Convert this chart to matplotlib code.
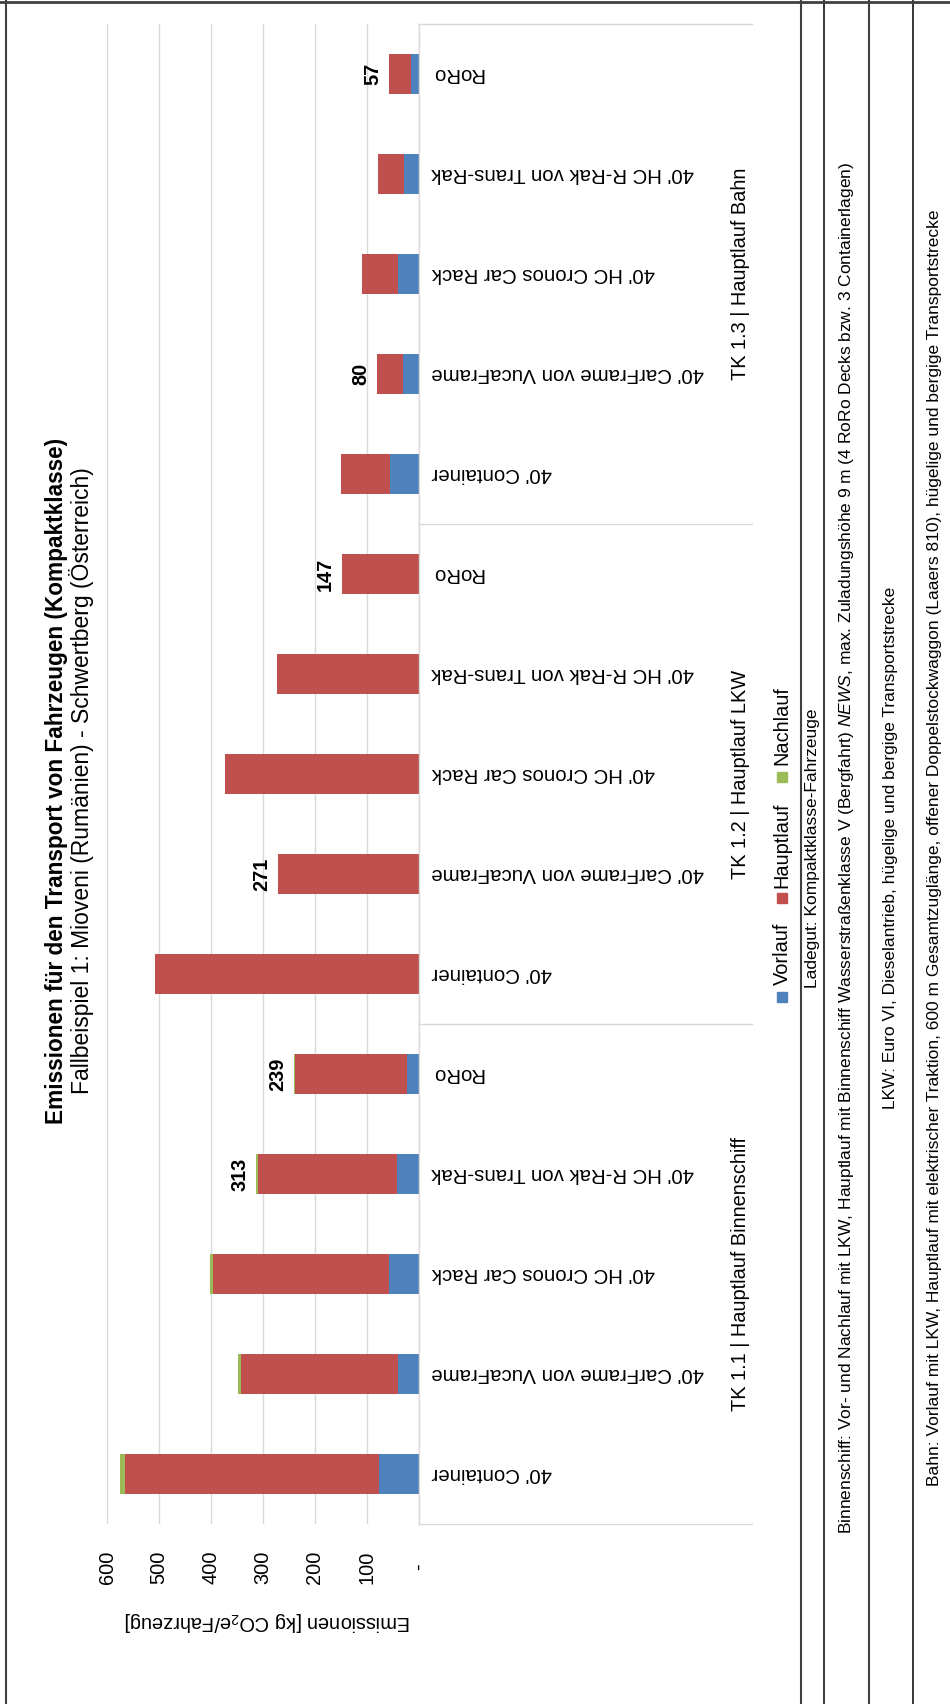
import matplotlib
matplotlib.use("Agg")
import matplotlib.pyplot as plt
from matplotlib.lines import Line2D
from matplotlib.patches import Rectangle
import numpy as np

plt.rcParams['font.family'] = 'Liberation Sans'
plt.rcParams['mathtext.fontset'] = 'custom'
plt.rcParams['mathtext.rm'] = 'Liberation Sans'
plt.rcParams['mathtext.it'] = 'Liberation Sans:italic'
plt.rcParams['mathtext.default'] = 'regular'

# data, listed from the bottom bar to the top bar
groups = ["TK 1.1 | Hauptlauf Binnenschiff", "TK 1.2 | Hauptlauf LKW", "TK 1.3 | Hauptlauf Bahn"]
variants = ["40' Container", "40' CarFrame von VucaFrame", "40' HC Cronos Car Rack",
            "40' HC R-Rak von Trans-Rak", "RoRo"]
vorlauf = [76, 39, 56, 41, 22, 0, 0, 0, 0, 0, 54, 29, 39, 28, 15]
hauptlauf = [490, 302, 340, 268, 215, 508, 271, 373, 273, 147, 95, 51, 69, 50, 42]
nachlauf = [8, 6, 6, 4, 2, 0, 0, 0, 0, 0, 0, 0, 0, 0, 0]
show_total = [False, False, False, True, True, False, True, False, False, True,
              False, True, False, False, True]
value_ticks = [0, 100, 200, 300, 400, 500, 600]
value_ticklabels = ["-", "100", "200", "300", "400", "500", "600"]
series_names = ["Vorlauf", "Hauptlauf", "Nachlauf"]
colors = ["#4F81BD", "#C0504D", "#9BBB59"]

title = "Emissionen für den Transport von Fahrzeugen (Kompaktklasse)"
subtitle = "Fallbeispiel 1: Mioveni (Rumänien) - Schwertberg (Österreich)"
axis_label = "Emissionen [kg CO$_2$e/Fahrzeug]"
notes = [
    "Ladegut: Kompaktklasse-Fahrzeuge",
    "Binnenschiff: Vor- und Nachlauf mit LKW, Hauptlauf mit Binnenschiff Wasserstraßenklasse V "
    "(Bergfahrt) $\\mathit{NEWS}$, max. Zuladungshöhe 9 m (4 RoRo Decks bzw. 3 Containerlagen)",
    "LKW: Euro VI, Dieselantrieb, hügelige und bergige Transportstrecke",
    "Bahn: Vorlauf mit LKW, Hauptlauf mit elektrischer Traktion, 600 m Gesamtzuglänge, offener "
    "Doppelstockwaggon (Laaers 810), hügelige und bergige Transportstrecke",
]

W, H = 950, 1704


def fx(px):
    return px / W


def fy(py):
    return 1 - py / H


fig = plt.figure(figsize=(W / 100, H / 100), dpi=100)
ax = fig.add_axes([fx(107), fy(1524), (418.5 - 107) / W, 1500 / H])

y = np.arange(len(vorlauf))
v = np.array(vorlauf)
h = np.array(hauptlauf)
n = np.array(nachlauf)
ax.barh(y, v, height=0.4, color=colors[0])
ax.barh(y, h, left=v, height=0.4, color=colors[1])
ax.barh(y, n, left=v + h, height=0.4, color=colors[2])

ax.set_xlim(600, 0)
ax.set_ylim(-0.5, len(y) - 0.5)

ax.set_xticks(value_ticks)
ax.set_xticklabels(value_ticklabels, rotation=90, ha='center', va='center')
ax.tick_params(axis='x', length=0, pad=31, labelsize=14.4)
ax.xaxis.grid(True, color='#D9D9D9', lw=1)
ax.set_axisbelow(True)

ax.yaxis.tick_right()
ax.set_yticks(y)
ax.set_yticklabels(variants * 3, rotation=180, ha='left', va='center')
ax.tick_params(axis='y', length=0, pad=9.4, labelsize=14.7)

for s in ['top', 'left', 'bottom']:
    ax.spines[s].set_visible(False)
ax.spines['right'].set_color('#D9D9D9')
ax.spines['right'].set_linewidth(1)

# group separators and group names right of the category axis
x_end = (752 - 107) / (418.5 - 107)
for b in [-0.5, 4.5, 9.5, 14.5]:
    ax.plot([1, x_end], [b, b], transform=ax.get_yaxis_transform(),
            color='#D9D9D9', lw=1, clip_on=False)
for i, g in enumerate(groups):
    ax.text((740 - 107) / (418.5 - 107), i * 5 + 2, g, transform=ax.get_yaxis_transform(),
            rotation=90, ha='center', va='center', fontsize=14.4)

# totals
totals = v + h + n
for i in range(len(y)):
    if show_total[i]:
        ax.annotate(f"{totals[i]:.0f}", xy=(totals[i], i), xytext=(-5, 0),
                    textcoords='offset points', rotation=90, ha='right', va='center',
                    fontweight='bold', fontsize=14.4)

fig.text(fx(268), fy(1621), axis_label, rotation=180, ha='center', va='center', fontsize=14.4)
fig.text(fx(57), fy(781), title, rotation=90, ha='center', va='center',
         fontsize=16.3, fontweight='bold')
fig.text(fx(82), fy(781), subtitle, rotation=90, ha='center', va='center', fontsize=16.5)

# legend (rotated like the rest of the page)
legend_pos = [(997, 985), (898, 888), (777, 765)]
for name, c, (my, ty) in zip(series_names, colors, legend_pos):
    fig.add_artist(Rectangle((fx(777), fy(my + 5)), 10 / W, 10 / H,
                             transform=fig.transFigure, color=c))
    fig.text(fx(782), fy(ty), name, rotation=90, ha='center', va='bottom', fontsize=14.4)

# notes table on the right
for x, lw, c in [(801, 1.5, '#404040'), (824, 1.1, 'black'), (869, 1.5, '#404040'), (913, 1.1, 'black')]:
    fig.add_artist(Line2D([fx(x), fx(x)], [0, 1], transform=fig.transFigure, color=c, lw=lw))
for x, note in zip([813, 847, 890, 935], notes):
    fig.text(fx(x), fy(848), note, rotation=90, ha='center', va='center', fontsize=12.5)

# page border
fig.add_artist(Line2D([fx(6), fx(6)], [0, 1], transform=fig.transFigure, color='#404040', lw=1.5))
fig.add_artist(Line2D([0, 1], [fy(1.5), fy(1.5)], transform=fig.transFigure, color='#404040', lw=2))

fig.savefig("out.png", dpi=100)
